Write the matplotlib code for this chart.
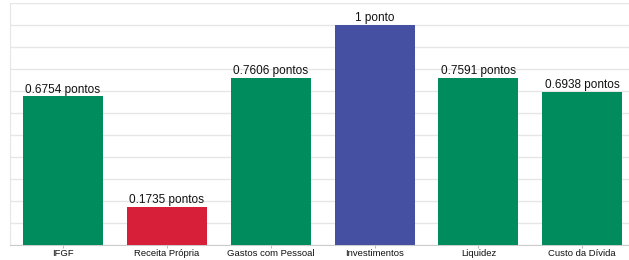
import matplotlib
matplotlib.use("Agg")
import matplotlib.pyplot as plt

categories = ["IFGF", "Receita Própria", "Gastos com Pessoal", "Investimentos", "Liquidez", "Custo da Dívida"]
values = [0.6754, 0.1735, 0.7606, 1.0, 0.7591, 0.6938]
labels = ["0.6754 pontos", "0.1735 pontos", "0.7606 pontos", "1 ponto", "0.7591 pontos", "0.6938 pontos"]
colors = ["#008C5C", "#D81F3A", "#008C5C", "#4650A2", "#008C5C", "#008C5C"]

plt.rcParams['font.family'] = ['Liberation Sans', 'DejaVu Sans']
fig = plt.figure(figsize=(6.29, 2.60), dpi=100)
ax = fig.add_axes([10/629, 15/260, 619/629, 242/260])
x = range(len(categories))
ax.bar(x, values, width=0.77, color=colors, zorder=3)
for xi, v, lab in zip(x, values, labels):
    ax.text(xi, v + 0.004, lab, ha="center", va="bottom", fontsize=8.5, color="#111111")
ax.set_xticks(list(x))
ax.set_xticklabels(categories, fontsize=6.8, color="#111111")
ax.set_xlim(-0.51, 5.45)
ax.set_ylim(0, 1.1)
ax.set_yticks([i / 10 for i in range(12)])
ax.yaxis.grid(True, color="#e6e6e6", linewidth=1, zorder=0)
ax.tick_params(axis="y", left=False, labelleft=False)
ax.tick_params(axis="x", length=2, color="#bbbbbb", pad=1)
for s in ["top", "right"]:
    ax.spines[s].set_visible(False)
ax.spines["left"].set_color("#e6e6e6")
ax.spines["bottom"].set_color("#cccccc")
fig.savefig("out.png", dpi=100)
